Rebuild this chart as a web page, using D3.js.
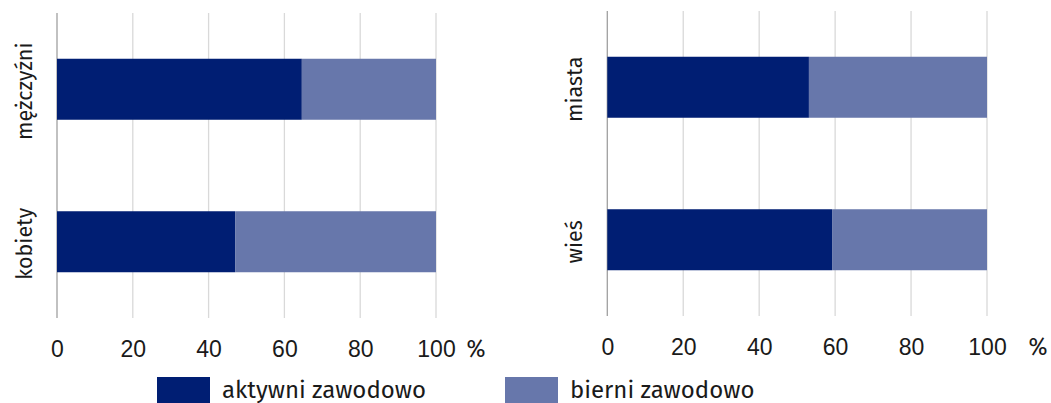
<!DOCTYPE html>
<html><head><meta charset="utf-8">
<script src="https://cdn.jsdelivr.net/npm/d3@7"></script>
<style>body{margin:0;background:#fff}svg{display:block;font-family:"Fira Sans",Roboto,sans-serif}</style>
</head><body><svg id="c" width="1051" height="403"></svg>
<script>
const seriesNames = ["aktywni zawodowo", "bierni zawodowo"];
const seriesColors = ["#001e73", "#6777ab"];
const leftCategories = ["mężczyźni", "kobiety"];
const leftActive = [64.6, 47.0];
const rightCategories = ["miasta", "wieś"];
const rightActive = [53.1, 59.2];
const tickValues = [0, 20, 40, 60, 80, 100];

const svg = d3.select("#c");
const FS = 22;
const barH = 61;

function panel(x0, x1, yTop, yBot, cats, active, labelX, pctX) {
  const x = d3.scaleLinear().domain([0, 100]).range([x0, x1]);
  const y = d3.scalePoint().domain(cats).range([yTop, yBot]).padding(0.5);
  const g = svg.append("g");
  g.selectAll("line.grid").data(tickValues).join("line").attr("class", "grid")
    .attr("x1", d => x(d)).attr("x2", d => x(d))
    .attr("y1", yTop).attr("y2", yBot)
    .attr("stroke", d => d === 0 ? "#a0a0a0" : "#d9d9d9").attr("stroke-width", 1.3);
  const rows = cats.map((c, i) => ({c, a: active[i], b: 100 - active[i]}));
  g.selectAll("rect.a").data(rows).join("rect").attr("class", "a")
    .attr("x", x(0)).attr("y", d => y(d.c) - barH / 2).attr("height", barH)
    .attr("width", d => x(d.a) - x(0)).attr("fill", seriesColors[0]);
  g.selectAll("rect.b").data(rows).join("rect").attr("class", "b")
    .attr("x", d => x(d.a)).attr("y", d => y(d.c) - barH / 2).attr("height", barH)
    .attr("width", d => x(100) - x(d.a)).attr("fill", seriesColors[1]);
  const ax = d3.axisBottom(x).tickValues(tickValues).tickSize(0).tickPadding(0);
  const axg = g.append("g").attr("transform", `translate(0,${yBot + 39})`).call(ax);
  axg.select(".domain").remove();
  axg.selectAll("text").attr("font-size", 23).attr("fill", "#1a1a1a").attr("font-family", "inherit").attr("dy", 0);
  g.append("text").attr("x", pctX).attr("y", yBot + 39).attr("font-size", 23).attr("fill", "#1a1a1a").attr("text-anchor", "middle").text("%");
  g.selectAll("text.cat").data(cats).join("text").attr("class", "cat")
    .attr("transform", d => `translate(${labelX},${y(d) + 2}) rotate(-90)`)
    .attr("text-anchor", "middle").attr("dy", "0.35em")
    .attr("font-size", 21.5).attr("fill", "#1a1a1a").text(d => d);
}

panel(57, 436, 13, 318, leftCategories, leftActive, 24, 476);
panel(607.3, 987, 11, 316, rightCategories, rightActive, 574, 1038);

const leg = svg.append("g");
const lx = [157, 505];
seriesNames.forEach((s, i) => {
  leg.append("rect").attr("x", lx[i]).attr("y", 377).attr("width", 53).attr("height", 30).attr("fill", seriesColors[i]);
  leg.append("text").attr("x", lx[i] + 65).attr("y", 397.5).attr("font-size", 24).attr("fill", "#1a1a1a").text(s);
});
</script></body></html>
